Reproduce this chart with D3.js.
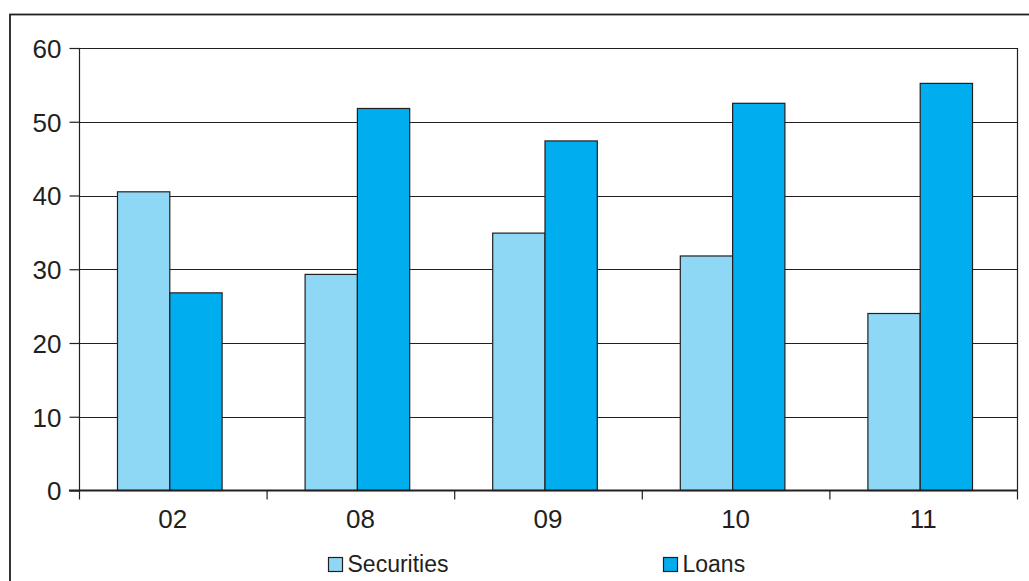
<!DOCTYPE html>
<html>
<head>
<meta charset="utf-8">
<script src="https://cdn.jsdelivr.net/npm/d3@7"></script>
<style>
  html, body { margin: 0; padding: 0; background: #fff; }
  svg { display: block; }
  text { font-family: "Liberation Sans", Arial, sans-serif; fill: #231f20; }
</style>
</head>
<body>
<svg id="chart" width="1029" height="581"></svg>
<script>
const categories = ["02", "08", "09", "10", "11"];
const seriesNames = ["Securities", "Loans"];
const securities = [40.5, 29.3, 34.9, 31.8, 24.0];
const loans = [26.8, 51.8, 47.4, 52.5, 55.2];
const yTicks = [0, 10, 20, 30, 40, 50, 60];
const colors = ["#8fd8f5", "#00adef"];

const W = 1029, H = 581;
const plot = { left: 79, right: 1017, top: 48, bottom: 490.5 };
const ink = "#231f20";

const svg = d3.select("#chart");

// outer frame (extends beyond the picture on right and bottom)
svg.append("rect")
  .attr("x", 10).attr("y", 14.5)
  .attr("width", W + 20).attr("height", H + 20)
  .attr("fill", "none").attr("stroke", ink).attr("stroke-width", 1.8);

const x0 = d3.scaleBand().domain(categories).range([plot.left, plot.right]).padding(0);
const groupW = x0.bandwidth() * 0.5576;
const x1 = d3.scaleBand().domain(seriesNames).range([0, groupW]).padding(0);
const y = d3.scaleLinear().domain([0, 60]).range([plot.bottom, plot.top]);

// gridlines
svg.append("g").selectAll("line").data(yTicks.filter(d => d > 0)).join("line")
  .attr("x1", plot.left).attr("x2", plot.right)
  .attr("y1", d => Math.round(y(d)) + 0.5).attr("y2", d => Math.round(y(d)) + 0.5)
  .attr("stroke", ink).attr("stroke-width", 1.2);

// right border
svg.append("line")
  .attr("x1", plot.right + 0.5).attr("x2", plot.right + 0.5)
  .attr("y1", plot.top).attr("y2", plot.bottom)
  .attr("stroke", ink).attr("stroke-width", 1.2);

// bars
const data = categories.map((c, i) => ({ cat: c, vals: [securities[i], loans[i]] }));
const shift = -3;
const groups = svg.append("g").selectAll("g").data(data).join("g")
  .attr("transform", d => `translate(${x0(d.cat) + (x0.bandwidth() - groupW) / 2 + shift},0)`);
groups.selectAll("rect").data(d => d.vals.map((v, j) => ({ name: seriesNames[j], v, j }))).join("rect")
  .attr("x", d => x1(d.name))
  .attr("width", x1.bandwidth())
  .attr("y", d => y(d.v))
  .attr("height", d => plot.bottom - y(d.v))
  .attr("fill", d => colors[d.j])
  .attr("stroke", ink).attr("stroke-width", 1.2);

// y axis
const yAxis = svg.append("g")
  .attr("transform", `translate(${plot.left + 0.5},0)`)
  .call(d3.axisLeft(y).tickValues(yTicks).tickSize(10).tickPadding(8).tickFormat(d3.format("d")));
yAxis.select(".domain").attr("d", `M0,${plot.top}V${plot.bottom + 9}`).attr("stroke", ink).attr("stroke-width", 1.2);
yAxis.selectAll(".tick line").attr("stroke", ink).attr("stroke-width", 1.2);
yAxis.selectAll(".tick text").attr("font-size", 26).attr("fill", ink).attr("dy", "0.36em")
  .style("font-family", "'Liberation Sans', Arial, sans-serif");

// x axis line
svg.append("line")
  .attr("x1", plot.left - 10).attr("x2", plot.right + 0.5)
  .attr("y1", plot.bottom).attr("y2", plot.bottom)
  .attr("stroke", ink).attr("stroke-width", 1.8);

// x ticks at category boundaries
const bounds = categories.map(c => x0(c)).concat([plot.right]);
svg.append("g").selectAll("line").data(bounds.slice(1)).join("line")
  .attr("x1", d => d + 0.5).attr("x2", d => d + 0.5)
  .attr("y1", plot.bottom).attr("y2", plot.bottom + 9)
  .attr("stroke", ink).attr("stroke-width", 1.2);

// x labels
svg.append("g").selectAll("text").data(categories).join("text")
  .attr("x", d => x0(d) + x0.bandwidth() / 2)
  .attr("y", plot.bottom + 37)
  .attr("text-anchor", "middle")
  .attr("font-size", 26)
  .text(d => d);

// legend
const legendX = [328.5, 663.5];
const legend = svg.append("g").selectAll("g").data(seriesNames).join("g")
  .attr("transform", (d, i) => `translate(${legendX[i]},557.5)`);
legend.append("rect")
  .attr("width", 14).attr("height", 14)
  .attr("fill", (d, i) => colors[i])
  .attr("stroke", ink).attr("stroke-width", 1.2);
legend.append("text")
  .attr("x", 19).attr("y", 14)
  .attr("font-size", 23)
  .text(d => d);
</script>
</body>
</html>
